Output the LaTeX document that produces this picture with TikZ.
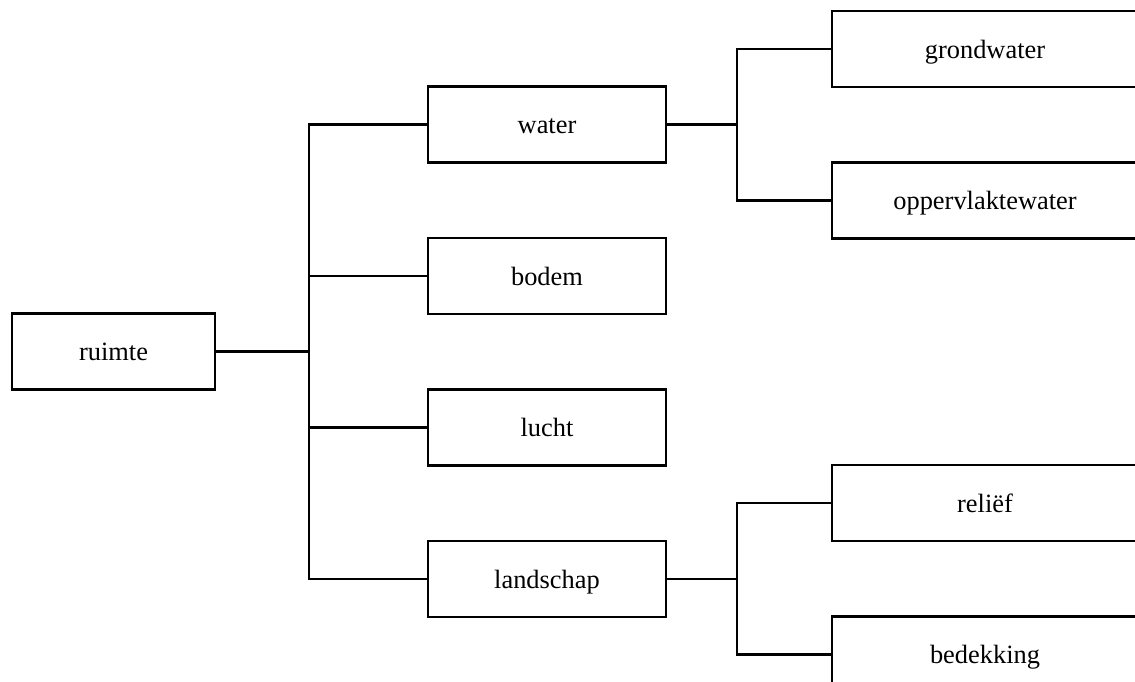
\documentclass[tikz,border=0pt]{standalone}
\usepackage{fontspec}
\setmainfont{Liberation Serif}
\begin{document}
\begin{tikzpicture}[x=1pt,y=-1pt,
  box/.style={draw, line width=2.6pt, rectangle, inner sep=0pt,
    minimum height=75.8pt, text height=18pt, text depth=0pt,
    font=\fontsize{26.4}{30}\selectfont},
  rootbox/.style={box, minimum width=203pt},
  midbox/.style={box, minimum width=238pt},
  leafbox/.style={box, minimum width=306pt},
  link/.style={line width=2.6pt, line cap=rect}]
\useasboundingbox (0,0) rectangle (1135,681);
\clip (0,0) rectangle (1135,681);

% root
\node[rootbox] (ruimte) at (113.5,351.5) {ruimte};

% second level
\node[midbox] (water)     at (547,124.5) {water};
\node[midbox] (bodem)     at (547,276)   {bodem};
\node[midbox] (lucht)     at (547,427.5) {lucht};
\node[midbox] (landschap) at (547,579)   {landschap};

% third level
\node[leafbox] (grondwater) at (985,49)    {grondwater};
\node[leafbox] (opp)        at (985,200.5) {oppervlaktewater};
\node[leafbox] (relief)     at (985,503)   {reliëf};
\node[leafbox] (bedekking)  at (985,654.5) {bedekking};

% junction points of the bracket lines
\coordinate (j1) at (309,351.5);
\coordinate (j2) at (737,124.5);
\coordinate (j3) at (737,579);

% root to second level
\draw[link] (ruimte.east) -- (j1);
\draw[link] (j1 |- water.west) -- (j1 |- landschap.west);
\draw[link] (j1 |- water.west) -- (water.west);
\draw[link] (j1 |- bodem.west) -- (bodem.west);
\draw[link] (j1 |- lucht.west) -- (lucht.west);
\draw[link] (j1 |- landschap.west) -- (landschap.west);

% water branch
\draw[link] (water.east) -- (j2);
\draw[link] (j2 |- grondwater.west) -- (j2 |- opp.west);
\draw[link] (j2 |- grondwater.west) -- (grondwater.west);
\draw[link] (j2 |- opp.west) -- (opp.west);

% landschap branch
\draw[link] (landschap.east) -- (j3);
\draw[link] (j3 |- relief.west) -- (j3 |- bedekking.west);
\draw[link] (j3 |- relief.west) -- (relief.west);
\draw[link] (j3 |- bedekking.west) -- (bedekking.west);
\end{tikzpicture}
\end{document}
